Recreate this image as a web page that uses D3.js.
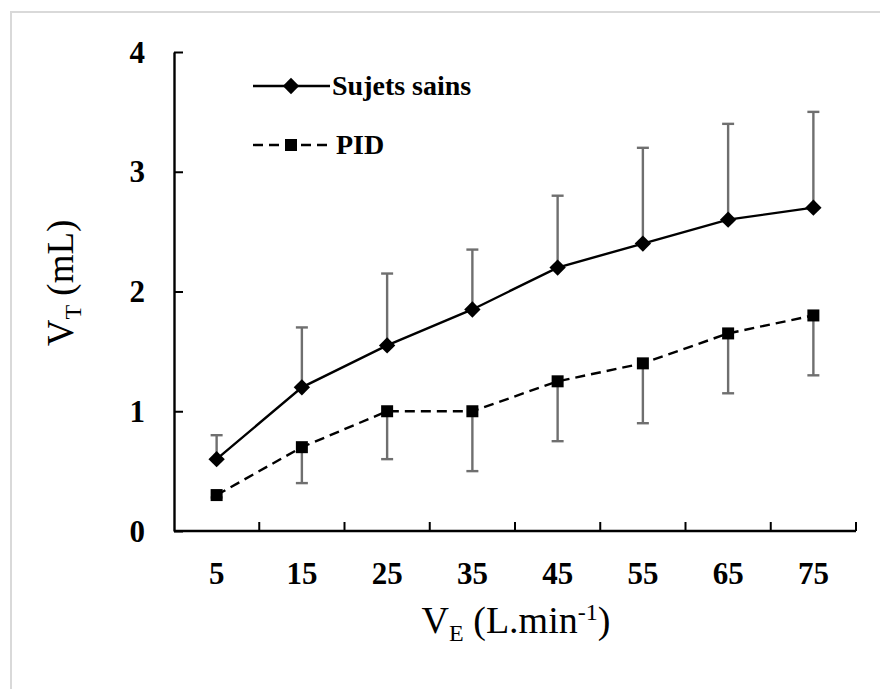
<!DOCTYPE html>
<html>
<head>
<meta charset="utf-8">
<script src="https://cdn.jsdelivr.net/npm/d3@7"></script>
<style>
  body { margin: 0; background: #fff; }
  svg { display: block; }
</style>
</head>
<body>
<div id="chart"></div>
<script>
// categories and series
const veLabels = ['5', '15', '25', '35', '45', '55', '65', '75']
const sainsMean = [0.6, 1.2, 1.55, 1.85, 2.2, 2.4, 2.6, 2.7]
const sainsUpper = [0.8, 1.7, 2.15, 2.35, 2.8, 3.2, 3.4, 3.5]
const pidMean = [0.3, 0.7, 1.0, 1.0, 1.25, 1.4, 1.65, 1.8]
const pidLower = [0.28, 0.4, 0.6, 0.5, 0.75, 0.9, 1.15, 1.3]
const yTicks = [0, 1, 2, 3, 4]

const width = 880
const height = 689
const margin = {left: 174, right: 24, top: 52, bottom: 158}
const serif = '"Liberation Serif"'

const svg = d3.select('#chart').append('svg')
  .attr('width', width)
  .attr('height', height)

// outer frame
svg.append('rect')
  .attr('x', 11).attr('y', 12)
  .attr('width', width + 20).attr('height', height + 20)
  .attr('fill', 'none')
  .attr('stroke', '#d9d9d9')
  .attr('stroke-width', 2)

const xScale = d3.scaleBand()
  .domain(veLabels)
  .range([margin.left, width - margin.right])
  .padding(0)

const yScale = d3.scaleLinear()
  .domain([0, 4])
  .range([height - margin.bottom, margin.top])

const cx = d => xScale(d) + xScale.bandwidth() / 2

// y axis, ticks pointing inward
const yAxis = svg.append('g')
  .attr('transform', `translate(${margin.left},0)`)
  .call(d3.axisRight(yScale).tickValues(yTicks).tickSize(9).tickSizeOuter(0).tickFormat(d3.format('d')))
yAxis.select('.domain').attr('stroke', '#000').attr('stroke-width', 2.4)
yAxis.selectAll('.tick line').attr('stroke', '#000').attr('stroke-width', 2)
yAxis.selectAll('.tick text')
  .attr('x', -29)
  .attr('text-anchor', 'end')
  .attr('dy', '0.33em')
  .style('font-family', serif)
  .style('font-size', '31px')
  .style('font-weight', 'bold')

// x axis, ticks at band boundaries pointing up
const xAxisG = svg.append('g')
  .attr('transform', `translate(0,${yScale(0)})`)
xAxisG.append('line')
  .attr('x1', margin.left).attr('x2', width - margin.right)
  .attr('stroke', '#000').attr('stroke-width', 2.4)
const boundaries = veLabels.map(d => xScale(d) + xScale.bandwidth())
xAxisG.selectAll('.xtick')
  .data(boundaries)
  .enter().append('line')
  .attr('x1', d => d).attr('x2', d => d)
  .attr('y1', 0).attr('y2', -9)
  .attr('stroke', '#000').attr('stroke-width', 2)
xAxisG.selectAll('.xlabel')
  .data(veLabels)
  .enter().append('text')
  .attr('x', d => cx(d))
  .attr('y', 53)
  .attr('text-anchor', 'middle')
  .style('font-family', serif)
  .style('font-size', '31px')
  .style('font-weight', 'bold')
  .text(d => d)

// axis titles
const yTitle = svg.append('text')
  .attr('transform', `translate(73,283) rotate(-90)`)
  .attr('text-anchor', 'middle')
  .style('font-family', serif)
  .style('font-size', '37px')
yTitle.append('tspan').text('V')
yTitle.append('tspan').attr('dy', 8).style('font-size', '24px').text('T')
yTitle.append('tspan').attr('dy', -8).text(' (mL)')

const xTitle = svg.append('text')
  .attr('x', 516)
  .attr('y', 633)
  .attr('text-anchor', 'middle')
  .style('font-family', serif)
  .style('font-size', '38px')
xTitle.append('tspan').text('V')
xTitle.append('tspan').attr('dy', 8).style('font-size', '24px').text('E')
xTitle.append('tspan').attr('dy', -8).text(' (L.min')
xTitle.append('tspan').attr('dy', -13).style('font-size', '24px').text('-1')
xTitle.append('tspan').attr('dy', 13).text(')')

// error bars
const errColor = '#6f6f6f'
const capW = 12
function errorBars (means, ends, cls) {
  const g = svg.append('g').attr('class', cls)
  veLabels.forEach((d, i) => {
    g.append('line')
      .attr('x1', cx(d)).attr('x2', cx(d))
      .attr('y1', yScale(means[i])).attr('y2', yScale(ends[i]))
      .attr('stroke', errColor).attr('stroke-width', 2.4)
    g.append('line')
      .attr('x1', cx(d) - capW / 2).attr('x2', cx(d) + capW / 2)
      .attr('y1', yScale(ends[i])).attr('y2', yScale(ends[i]))
      .attr('stroke', errColor).attr('stroke-width', 2.4)
  })
}
errorBars(sainsMean, sainsUpper, 'err-sains')
errorBars(pidMean, pidLower, 'err-pid')

// lines
const line = d3.line()
  .x((d, i) => cx(veLabels[i]))
  .y(d => yScale(d))

svg.append('path')
  .datum(sainsMean)
  .attr('d', line)
  .attr('fill', 'none')
  .attr('stroke', '#000')
  .attr('stroke-width', 2.4)

svg.append('path')
  .datum(pidMean)
  .attr('d', line)
  .attr('fill', 'none')
  .attr('stroke', '#000')
  .attr('stroke-width', 2.4)
  .attr('stroke-dasharray', '10,6')

// markers
const diamond = d3.symbol().type(d3.symbolDiamond2).size(170)
svg.selectAll('.m-sains')
  .data(sainsMean)
  .enter().append('path')
  .attr('class', 'm-sains')
  .attr('transform', (d, i) => `translate(${cx(veLabels[i])},${yScale(d)})`)
  .attr('d', diamond)
  .attr('fill', '#000')

svg.selectAll('.m-pid')
  .data(pidMean)
  .enter().append('rect')
  .attr('class', 'm-pid')
  .attr('x', (d, i) => cx(veLabels[i]) - 6)
  .attr('y', d => yScale(d) - 6)
  .attr('width', 12).attr('height', 12)
  .attr('fill', '#000')

// legend
const legend = svg.append('g')
legend.append('line')
  .attr('x1', 253).attr('x2', 330).attr('y1', 86).attr('y2', 86)
  .attr('stroke', '#000').attr('stroke-width', 2.4)
legend.append('path')
  .attr('transform', 'translate(291,86)')
  .attr('d', diamond)
  .attr('fill', '#000')
legend.append('text')
  .attr('x', 332).attr('y', 95)
  .style('font-family', serif)
  .style('font-size', '28px').style('font-weight', 'bold')
  .text('Sujets sains')

legend.append('line')
  .attr('x1', 253).attr('x2', 330).attr('y1', 145).attr('y2', 145)
  .attr('stroke', '#000').attr('stroke-width', 2.4)
  .attr('stroke-dasharray', '10,6')
legend.append('rect')
  .attr('x', 285).attr('y', 139).attr('width', 12).attr('height', 12)
  .attr('fill', '#000')
legend.append('text')
  .attr('x', 336).attr('y', 154)
  .style('font-family', serif)
  .style('font-size', '28px').style('font-weight', 'bold')
  .text('PID')
</script>
</body>
</html>
